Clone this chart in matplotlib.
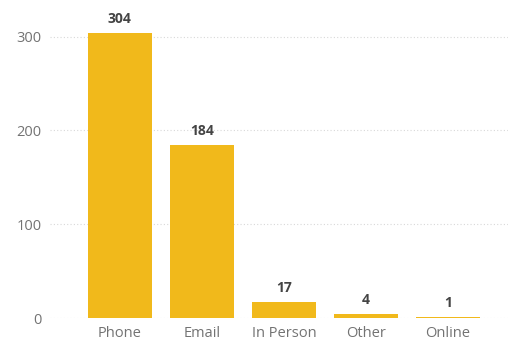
import matplotlib.pyplot as plt
from matplotlib import font_manager

CATEGORIES = ["Phone", "Email", "In Person", "Other", "Online"]
COUNTS = [304, 184, 17, 4, 1]
Y_TICKS = [0, 100, 200, 300]

BAR_COLOR = "#F1B91B"
TICK_COLOR = "#737373"
LABEL_COLOR = "#444444"

names = {f.name for f in font_manager.fontManager.ttflist}
family = "Liberation Sans Narrow" if "Liberation Sans Narrow" in names else "Open Sans"
plt.rcParams["font.family"] = [family, "DejaVu Sans"]

fig = plt.figure(figsize=(5.08, 3.45), dpi=100)
ax = fig.add_axes([50 / 508, 27 / 345, 458 / 508, 318 / 345])

x = range(len(CATEGORIES))
bars = ax.bar(x, COUNTS, width=0.78, color=BAR_COLOR, zorder=2)
for rect, v in zip(bars, COUNTS):
    ax.annotate(str(v), (rect.get_x() + rect.get_width() / 2, v),
                xytext=(0, 5), textcoords="offset points",
                ha="center", va="bottom", fontsize=10, fontweight="bold",
                color=LABEL_COLOR)

ax.set_xlim(-0.85, 4.73)
ax.set_ylim(0, 339)
ax.set_yticks(Y_TICKS)
ax.set_xticks(list(x))
ax.set_xticklabels(CATEGORIES)
ax.yaxis.grid(True, linestyle=(0, (1, 2)), color="#d8d8d8", linewidth=0.8, zorder=0)
ax.tick_params(axis="both", length=0, colors=TICK_COLOR, labelsize=10.5)
ax.tick_params(axis="y", pad=6)
ax.tick_params(axis="x", pad=6)
for s in ax.spines.values():
    s.set_visible(False)

fig.savefig("out.png", dpi=100)
